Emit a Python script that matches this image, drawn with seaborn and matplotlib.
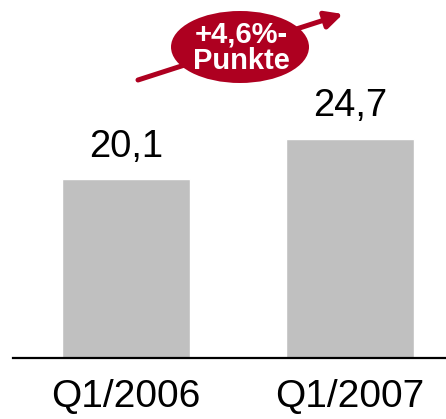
import pandas as pd
import matplotlib
matplotlib.use("Agg")
import matplotlib.pyplot as plt
import seaborn as sns
from matplotlib.patches import Ellipse, FancyArrowPatch

# data
quarters = ["Q1/2006", "Q1/2007"]
values = [20.1, 24.7]
value_labels = ["20,1", "24,7"]
delta_label = "+4,6%-\nPunkte"

sns.set_style("white")
plt.rcParams["font.family"] = ["Liberation Sans", "DejaVu Sans"]

df = pd.DataFrame({"quarter": quarters, "value": values})

fig = plt.figure(figsize=(4.46, 4.19), dpi=100)
ax = fig.add_axes([13 / 446, 61 / 419, 433 / 446, 358 / 419])

sns.barplot(data=df, x="quarter", y="value", color="#C0C0C0", width=0.571,
            saturation=1, ax=ax)

ax.set_xlim(-0.504, 1.429)
ax.set_ylim(0, 40.3)

# value labels above bars
for i, (v, lab) in enumerate(zip(values, value_labels)):
    ax.text(i, v + 2.5, lab, ha="center", va="baseline", fontsize=27.5, color="black")

# axis styling
for s in ["top", "right", "left"]:
    ax.spines[s].set_visible(False)
ax.spines["bottom"].set_color("black")
ax.spines["bottom"].set_linewidth(1.6)
ax.set_yticks([])
ax.set_xlabel("")
ax.set_ylabel("")
ax.tick_params(axis="x", length=0, pad=15, labelsize=28, colors="black")

# red arrow + ellipse with the change
red = "#AE0020"
arrow = FancyArrowPatch((138, 419 - 80), (343, 419 - 14), transform=None,
                        arrowstyle="-|>", mutation_scale=26, lw=3.6,
                        color=red, shrinkA=0, shrinkB=0)
fig.patches.append(arrow)
ell = Ellipse((240 / 446, 1 - 47 / 419), 138 / 446, 72 / 419,
              transform=fig.transFigure, facecolor=red, edgecolor="none")
fig.patches.append(ell)
fig.text(241 / 446, 1 - 48 / 419, delta_label, ha="center", va="center",
         fontsize=21, fontweight="bold", color="white", linespacing=0.92)

plt.savefig("out.png", dpi=100)
